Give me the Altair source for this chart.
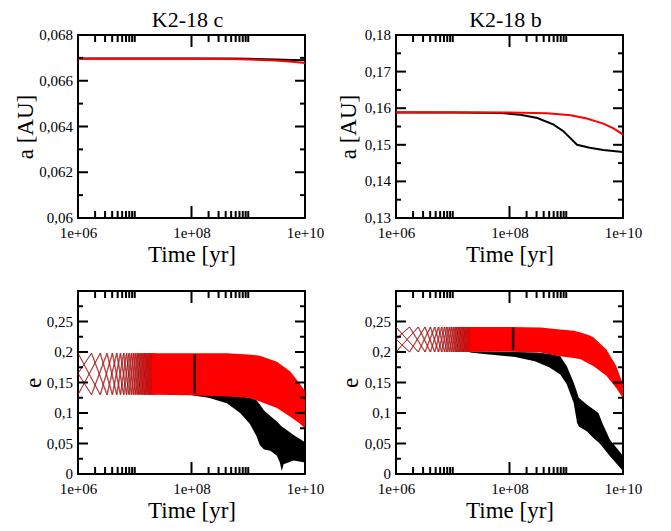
import altair as alt
import pandas as pd

# ---------------- data ----------------
SERIF = "Liberation Serif"
panel_titles = ["K2-18 c", "K2-18 b"]

x_major = [1e6, 1e8, 1e10]
x_major_labels = ["1e+06", "1e+08", "1e+10"]
x_minor = [2e6, 3e6, 4e6, 5e6, 6e6, 7e6, 8e6, 9e6, 1e7,
           2e8, 3e8, 4e8, 5e8, 6e8, 7e8, 8e8, 9e8, 1e9]

# semi-major axis, K2-18 c
c_a_t = [1e6, 1e7, 1e8, 5e8, 1e9, 3e9, 6e9, 1e10]
c_a_red = [0.06696, 0.06696, 0.06696, 0.06695, 0.06693, 0.06688, 0.06683, 0.06678]
c_a_black = [0.06697, 0.06697, 0.06697, 0.06697, 0.06696, 0.06693, 0.06691, 0.06690]

# semi-major axis, K2-18 b
b_a_red_t = [1e6, 1e8, 4.6e8, 1.2e9, 2.3e9, 4.5e9, 6.8e9, 1e10]
b_a_red = [0.1589, 0.1588, 0.1586, 0.1581, 0.1572, 0.1558, 0.1545, 0.1528]
b_a_black_t = [1e6, 1e7, 7e7, 1.55e8, 3.1e8, 6e8, 8.9e8, 1.17e9, 1.55e9, 2.6e9, 4.5e9, 1e10]
b_a_black = [0.1588, 0.1588, 0.1587, 0.1582, 0.1573, 0.1555, 0.1537, 0.1519, 0.1500, 0.1492, 0.1486, 0.1480]

# eccentricity bands, K2-18 c
c_e_red_t = [2e7, 1e8, 4.2e8, 1e9, 1.6e9, 3.2e9, 5.5e9, 7.8e9, 1e10]
c_e_red_hi = [0.198, 0.198, 0.198, 0.196, 0.194, 0.184, 0.168, 0.150, 0.136]
c_e_red_lo = [0.130, 0.129, 0.127, 0.125, 0.119, 0.108, 0.094, 0.084, 0.075]
c_e_blk_t = [1e8, 2e8, 4.2e8, 7.2e8, 1.07e9, 1.4e9, 1.6e9, 1.9e9, 2.45e9, 3.2e9, 3.6e9, 3.9e9, 4.2e9, 6.3e9, 1e10]
c_e_blk_hi = [0.130, 0.129, 0.128, 0.127, 0.125, 0.121, 0.114, 0.104, 0.095, 0.086, 0.081, 0.078, 0.076, 0.064, 0.052]
c_e_blk_lo = [0.129, 0.125, 0.116, 0.100, 0.082, 0.062, 0.047, 0.040, 0.038, 0.030, 0.019, 0.005, 0.016, 0.022, 0.019]
c_e_hi, c_e_lo, c_e_mid = 0.198, 0.130, 0.165
c_strip = [1.08e8, 1.2e8, 0.132, 0.196]

# eccentricity bands, K2-18 b
b_e_red_t = [2e7, 1e8, 3.5e8, 7.8e8, 1.35e9, 1.8e9, 2.6e9, 3e9, 5.1e9, 7.6e9, 1e10]
b_e_red_hi = [0.241, 0.241, 0.240, 0.237, 0.235, 0.232, 0.227, 0.224, 0.204, 0.177, 0.147]
b_e_red_lo = [0.2005, 0.2005, 0.199, 0.193, 0.190, 0.188, 0.180, 0.177, 0.161, 0.141, 0.124]
b_e_blk_t = [2e7, 3.2e7, 1.26e8, 2.8e8, 5e8, 7.85e8, 1.02e9, 1.35e9, 1.55e9, 1.66e9, 2.3e9, 3e9, 3.7e9, 4.3e9, 5.9e9, 1e10]
b_e_blk_hi = [0.201, 0.201, 0.200, 0.199, 0.197, 0.193, 0.177, 0.150, 0.134, 0.125, 0.114, 0.106, 0.100, 0.084, 0.056, 0.030]
b_e_blk_lo = [0.199, 0.197, 0.192, 0.185, 0.175, 0.163, 0.147, 0.117, 0.084, 0.078, 0.070, 0.059, 0.052, 0.045, 0.029, 0.005]
b_e_hi, b_e_lo, b_e_mid = 0.241, 0.200, 0.221
b_strip = [1.1e8, 1.22e8, 0.203, 0.240]

# early oscillation turning-point times (yr)
osc_red_t1 = [1.0e6, 2.5e6, 4.1e6, 5.7e6, 7.3e6, 8.9e6, 10.5e6, 12.1e6, 13.7e6, 15.3e6,
              16.9e6, 18.5e6, 20.1e6, 21.7e6]
osc_red_t2 = [1.0e6, 1.75e6, 3.3e6, 4.9e6, 6.5e6, 8.1e6, 9.7e6, 11.3e6, 12.9e6, 14.5e6,
              16.1e6, 17.7e6, 19.3e6, 20.9e6, 22.5e6]
osc_blk_t1 = [1.0e6, 2.45e6, 4.0e6, 5.55e6, 7.1e6, 8.65e6, 10.2e6, 11.75e6, 13.3e6, 14.85e6,
              16.4e6, 17.95e6, 19.5e6, 21.05e6]
osc_blk_t2 = [1.0e6, 1.72e6, 3.22e6, 4.77e6, 6.32e6, 7.87e6, 9.42e6, 10.97e6, 12.52e6, 14.07e6,
              15.62e6, 17.17e6, 18.72e6, 20.27e6, 21.82e6]

# axes ticks and tick labels
c_a_major = [0.060, 0.062, 0.064, 0.066, 0.068]
c_a_minor = [0.061, 0.063, 0.065, 0.067]
c_a_labels = ["0,06", "0,062", "0,064", "0,066", "0,068"]
b_a_major = [0.13, 0.14, 0.15, 0.16, 0.17, 0.18]
b_a_minor = [0.135, 0.145, 0.155, 0.165, 0.175]
b_a_labels = ["0,13", "0,14", "0,15", "0,16", "0,17", "0,18"]
e_major = [0.0, 0.05, 0.10, 0.15, 0.20, 0.25, 0.30]
e_minor = [0.025, 0.075, 0.125, 0.175, 0.225, 0.275]
e_label_vals = [0.0, 0.05, 0.10, 0.15, 0.20, 0.25]
e_label_text = ["0", "0,05", "0,1", "0,15", "0,2", "0,25"]

# ---------------- helpers ----------------
W, H = 227, 183
RED = "#ff0000"
XS = alt.Scale(type="log", domain=[1e6, 1e10], nice=False)


def yscale(d):
    return alt.Scale(domain=d, nice=False, zero=False)


x_expr = " : ".join(
    f"datum.value == {int(v)} ? '{lab}'" for v, lab in zip(x_major, x_major_labels)
) + " : ''"


def x_axis():
    return alt.Axis(values=x_major, labelExpr=x_expr, labelFlush=False, labelOverlap=False,
                    ticks=False, domain=False, grid=False, title="Time [yr]",
                    labelPadding=7, titlePadding=3,
                    labelFont=SERIF, labelFontSize=15, labelColor="black",
                    titleFont=SERIF, titleFontSize=23, titleColor="black",
                    titleFontWeight="normal")


def y_axis(ttl, pad):
    return alt.Axis(labels=False, ticks=False, domain=False, grid=False, title=ttl,
                    titlePadding=pad,
                    titleFont=SERIF, titleFontSize=23, titleColor="black",
                    titleFontWeight="normal")


def strands(t1, t2, hi, lo, mid, prefix):
    rows = []
    for k, t in enumerate(t1):
        rows.append((prefix + "A", t, hi if k % 2 == 0 else lo))
        rows.append((prefix + "B", t, lo if k % 2 == 0 else hi))
    for k, t in enumerate(t2):
        if k == 0:
            va = vb = mid
        else:
            va = hi if k % 2 == 1 else lo
            vb = lo if k % 2 == 1 else hi
        rows.append((prefix + "C", t, va))
        rows.append((prefix + "D", t, vb))
    return pd.DataFrame(rows, columns=["s", "t", "e"])


def tick_layers(ydom, y_major, y_minor, lab_vals, lab_text):
    ys = yscale(ydom)
    xmaj = pd.DataFrame({"t": x_major})
    xmin = pd.DataFrame({"t": x_minor})
    ymaj = pd.DataFrame({"v": y_major})
    ymin = pd.DataFrame({"v": y_minor})
    ylab = pd.DataFrame({"v": lab_vals, "lab": lab_text})
    rule = dict(color="black", strokeWidth=2)
    X = alt.X("t:Q", scale=XS)
    Y = alt.Y("v:Q", scale=ys)
    return [
        alt.Chart(xmaj).mark_rule(**rule).encode(x=X, y=alt.value(H), y2=alt.value(H - 12)),
        alt.Chart(xmaj).mark_rule(**rule).encode(x=X, y=alt.value(0), y2=alt.value(12)),
        alt.Chart(xmin).mark_rule(**rule).encode(x=X, y=alt.value(H), y2=alt.value(H - 7)),
        alt.Chart(xmin).mark_rule(**rule).encode(x=X, y=alt.value(0), y2=alt.value(7)),
        alt.Chart(ymaj).mark_rule(**rule).encode(y=Y, x=alt.value(0), x2=alt.value(10)),
        alt.Chart(ymaj).mark_rule(**rule).encode(y=Y, x=alt.value(W), x2=alt.value(W - 10)),
        alt.Chart(ymin).mark_rule(**rule).encode(y=Y, x=alt.value(0), x2=alt.value(5)),
        alt.Chart(ymin).mark_rule(**rule).encode(y=Y, x=alt.value(W), x2=alt.value(W - 5)),
        alt.Chart(ylab).mark_text(align="right", baseline="middle", font=SERIF, fontSize=15,
                                  color="black", dx=-5).encode(
            y=Y, x=alt.value(0), text="lab:N"),
    ]


def title(text):
    return alt.TitleParams(text, font=SERIF, fontSize=22, fontWeight="normal",
                           color="black", anchor="middle", frame="group", offset=-4, dx=-4)


def a_panel(ydom, y_major, y_minor, y_labels, red_t, red_v, blk_t, blk_v, ttl, pad):
    ys = yscale(ydom)
    blk = alt.Chart(pd.DataFrame({"t": blk_t, "a": blk_v})).mark_line(
        color="black", strokeWidth=2, clip=True).encode(
        x=alt.X("t:Q", scale=XS, axis=x_axis()),
        y=alt.Y("a:Q", scale=ys, axis=y_axis("a [AU]", pad)))
    red = alt.Chart(pd.DataFrame({"t": red_t, "a": red_v})).mark_line(
        color=RED, strokeWidth=2, clip=True).encode(
        x=alt.X("t:Q", scale=XS), y=alt.Y("a:Q", scale=ys))
    layers = [blk, red] + tick_layers(ydom, y_major, y_minor, y_major, y_labels)
    return alt.layer(*layers).properties(width=W, height=H, title=title(ttl))


def e_panel(red_t, red_hi, red_lo, blk_t, blk_hi, blk_lo, hi, lo, mid, strip, pad):
    ydom = [0.0, 0.30]
    ys = yscale(ydom)
    X = alt.X("t:Q", scale=XS)
    blk_osc = alt.Chart(strands(osc_blk_t1, osc_blk_t2, hi, lo, mid, "k")).mark_line(
        color="black", strokeWidth=0.6, clip=True).encode(
        x=alt.X("t:Q", scale=XS, axis=x_axis()),
        y=alt.Y("e:Q", scale=ys, axis=y_axis("e", pad)), detail="s:N")
    blk_band = alt.Chart(pd.DataFrame({"t": blk_t, "hi": blk_hi, "lo": blk_lo})).mark_area(
        color="black", clip=True).encode(
        x=X, y=alt.Y("hi:Q", scale=ys), y2="lo:Q")
    red_osc = alt.Chart(strands(osc_red_t1, osc_red_t2, hi, lo, mid, "r")).mark_line(
        color=RED, strokeWidth=0.6, clip=True).encode(
        x=X, y=alt.Y("e:Q", scale=ys), detail="s:N")
    red_band = alt.Chart(pd.DataFrame({"t": red_t, "hi": red_hi, "lo": red_lo})).mark_area(
        color=RED, clip=True).encode(
        x=X, y=alt.Y("hi:Q", scale=ys), y2="lo:Q")
    strip_df = pd.DataFrame({"t0": [strip[0]], "t1": [strip[1]], "lo": [strip[2]], "hi": [strip[3]]})
    strip_m = alt.Chart(strip_df).mark_rect(color="black", opacity=0.8).encode(
        x=alt.X("t0:Q", scale=XS), x2="t1:Q",
        y=alt.Y("lo:Q", scale=ys), y2="hi:Q")
    layers = [blk_osc, blk_band, red_osc, red_band, strip_m] + tick_layers(
        ydom, e_major, e_minor, e_label_vals, e_label_text)
    return alt.layer(*layers).properties(width=W, height=H)


tl = a_panel([0.060, 0.068], c_a_major, c_a_minor, c_a_labels,
             c_a_t, c_a_red, c_a_t, c_a_black, panel_titles[0], 41)
tr = a_panel([0.13, 0.18], b_a_major, b_a_minor, b_a_labels,
             b_a_red_t, b_a_red, b_a_black_t, b_a_black, panel_titles[1], 36)
bl = e_panel(c_e_red_t, c_e_red_hi, c_e_red_lo, c_e_blk_t, c_e_blk_hi, c_e_blk_lo,
             c_e_hi, c_e_lo, c_e_mid, c_strip, 33)
br = e_panel(b_e_red_t, b_e_red_hi, b_e_red_lo, b_e_blk_t, b_e_blk_hi, b_e_blk_lo,
             b_e_hi, b_e_lo, b_e_mid, b_strip, 34)

chart = alt.concat(
    tl, tr, bl, br, columns=2, spacing={"row": 73, "column": 91}, bounds="flush"
).properties(
    padding={"left": 5, "top": 0, "right": 5, "bottom": 5},
    background="white"
).configure_view(
    stroke="black", strokeWidth=2
)

chart.save("out.html", embed_options={"renderer": "svg", "actions": False})
